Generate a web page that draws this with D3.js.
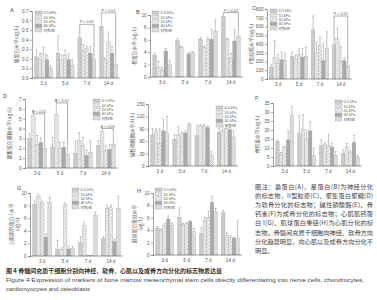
<!DOCTYPE html>
<html>
<head>
<meta charset="utf-8">
<script src="https://cdn.jsdelivr.net/npm/d3@7"></script>
<style>
  body { margin:0; background:#fff; }
  svg { display:block; font-family:"Liberation Sans","Noto Sans CJK SC",sans-serif; }
  .axis path, .axis line { stroke:#666; stroke-width:0.6; }
  .axis text { fill:#555; font-size:4.6px; }
</style>
</head>
<body>
<div id="chart"></div>
<script>
// categories
const days = ['3 d', '5 d', '7 d', '14 d'];
const groups = ['0.5 kPa', '10 kPa', '20 kPa', '40 kPa', '对照组'];

// values: one row per day, one column per group
const nestinMean = [[0.22,0.19,0.26,0.19,0.10],[0.26,0.19,0.24,0.19,0.13],[0.42,0.29,0.31,0.26,0.20],[0.54,0.19,0.37,0.26,0.14]];
const nestinErr  = [[0.07,0.07,0.06,0.05,0.03],[0.18,0.05,0.05,0.06,0.06],[0.06,0.06,0.02,0.07,0.05],[0.09,0.02,0.11,0.07,0.04]];
const gfapMean = [[3.5,1.5,1.0,4.2,2.0],[5.9,4.8,0.0,3.7,4.0],[6.1,4.7,6.1,6.1,7.4],[9.8,6.1,3.0,5.8,6.6]];
const gfapErr  = [[0.3,1.0,0.5,0.4,0.7],[0.3,0.2,0.0,0.2,0.1],[0.3,0.3,0.3,1.6,1.8],[0.4,0.2,0.8,1.8,1.0]];
const col2Mean = [[130,250,180,220,210],[255,235,285,250,260],[560,290,380,210,350],[390,460,200,210,140]];
const col2Err  = [[30,190,100,90,90],[50,40,60,100,100],[160,130,100,200,190],[70,120,170,30,20]];
const aggMean = [[3.0,5.3,2.4,2.6,2.0],[2.1,5.4,2.0,2.1,1.4],[1.5,2.8,2.3,1.3,1.6],[2.3,3.7,1.8,1.9,2.4]];
const aggErr  = [[0.5,0.4,0.9,0.5,0.3],[1.0,1.5,0.6,0.5,1.1],[1.2,0.8,0.8,0.5,1.2],[0.5,0.4,0.5,0.5,0.3]];
const alpMean = [[75,85,55,85,80],[65,75,78,80,100],[73,98,95,93,25],[82,85,90,88,70]];
const alpErr  = [[15,5,35,30,40],[10,20,5,5,3],[25,3,5,3,10],[10,10,8,5,15]];
const ocnMean = [[13.5,6.5,10.5,14.5,28],[18,20.5,15,19.5,6],[11.5,12,11.5,10.5,6],[7,10.5,7.5,13,5]];
const ocnErr  = [[1,1,0.5,5,5],[10,8,5,5,4],[3,1,6,2,2],[2,2,1,4,1]];
const ctniMean = [[8.2,9.5,8.4,3.0,8.5],[1.0,1.0,8.1,1.1,1.2],[2.1,4.8,0.1,0.1,6.5],[2.8,7.5,7.7,2.3,7.6]];
const ctniErr  = [[0.5,0.3,0.3,0.5,0.8],[1.5,0.3,0.3,0.5,0.3],[1.0,0.5,0.05,0.05,0.5],[0.3,0.5,0.4,0.4,1.9]];
const mhcMean = [[4.3,3.9,4.8,5.8,4.8],[6.1,4.9,5.0,5.4,3.8],[3.4,5.6,6.1,8.5,7.0],[6.8,3.1,2.8,2.7,2.7]];
const mhcErr  = [[0.3,0.3,0.3,0.5,0.4],[1.5,0.2,0.2,0.1,0.5],[1.0,0.5,1.0,1.0,0.5],[0.4,0.5,0.3,0.2,2.9]];

// tick labels
const ticksA = [0,0.1,0.2,0.3,0.4,0.5,0.6,0.7];
const ticks10 = [0,2,4,6,8,10];
const ticksC = [0,100,200,300,400,500,600,700,800];
const ticksD = [0,1,2,3,4,5,6,7];
const ticksE = [0,30,60,90,120,150];
const ticksF = [0,5,10,15,20,25,30,35];

// layout of the panels (pixel boxes)
const panels = [
  {id:'A', mean:nestinMean, err:nestinErr, ticks:ticksA, fmt:d3.format('.1f'), ylab:['巢蛋白水平(μg/L)'],
   box:{l:32,r:120,t:11,b:78}, label:[10,12], legend:[35,11],
   brackets:[{day:2,from:0,to:4,v:0.56,txt:'P < 0.01'},{day:3,from:0,to:4,v:0.68,txt:'P < 0.01'}]},
  {id:'B', mean:gfapMean, err:gfapErr, ticks:ticks10, fmt:d3.format('d'), ylab:['星蛋白水平(μg/L)'],
   box:{l:150,r:243,t:15,b:77}, label:[136,14], legend:[152,11],
   brackets:[{day:3,from:0,to:4,v:10.4,txt:'P < 0.01'}]},
  {id:'C', mean:col2Mean, err:col2Err, ticks:ticksC, fmt:d3.format('d'), ylab:['II型胶原水平(μg/L)'],
   box:{l:267,r:352,t:9,b:79}, label:[252,10], legend:[270,9],
   brackets:[{day:3,from:0,to:4,v:720,txt:'P < 0.01'}]},
  {id:'D', mean:aggMean, err:aggErr, ticks:ticksD, fmt:d3.format('d'), ylab:['聚集蛋白聚糖水平(μg/L)'],
   box:{l:25,r:118,t:99,b:168}, label:[3,98], legend:[93,99],
   brackets:[{day:0,from:1,to:4,v:5.5,txt:'P < 0.01'},{day:1,from:1,to:4,v:6.6,txt:'P < 0.01'},{day:3,from:1,to:4,v:4.0,txt:'P < 0.05'}]},
  {id:'E', mean:alpMean, err:alpErr, ticks:ticksE, fmt:d3.format('d'), ylab:['碱性磷酸酶水平(U/L)'],
   box:{l:148,r:238,t:104,b:166}, label:null, legend:[216,106], brackets:[]},
  {id:'F', mean:ocnMean, err:ocnErr, ticks:ticksF, fmt:d3.format('d'), ylab:['骨钙素水平(μg/L)'],
   box:{l:273,r:362,t:103,b:166}, label:[255,100], legend:[335,100], brackets:[]},
  {id:'G', mean:ctniMean, err:ctniErr, ticks:ticks10, fmt:d3.format('d'), ylab:['心肌肌钙蛋白 I 水平','(μg/L)'],
   box:{l:30,r:123,t:193,b:256}, label:[17,190], legend:[72,188], brackets:[]},
  {id:'H', mean:mhcMean, err:mhcErr, ticks:ticks10, fmt:d3.format('d'), ylab:['肌球蛋白重链水平','(μg/L)'],
   box:{l:153,r:242,t:193,b:255}, label:[137,193], legend:[155,188], brackets:[]}
];

const noteLines = [
  '图注：巢蛋白(A)、星蛋白(B)为神经分化',
  '的标志物，II型胶原(C)、聚集蛋白聚糖(D)',
  '为软骨分化的标志物；碱性磷酸酶(E)、骨',
  '钙素(F)为成骨分化的标志物；心肌肌钙蛋',
  '白 I(G)、肌球蛋白重链(H)为心肌分化的标',
  '志物。骨髓间充质干细胞向神经、软骨方向',
  '分化趋势明显，向心肌以及成骨方向分化不',
  '明显。'
];
const captionCn = '图 4   骨髓间充质干细胞分别向神经、软骨、心肌以及成骨方向分化的标志物表达量';
const captionEn1 = 'Figure 4   Expression of markers of bone marrow mesenchymal stem cells directly differentiating into nerve cells, chondrocytes,';
const captionEn2 = 'cardiomyocytes and osteoblasts';

const svg = d3.select('#chart').append('svg')
    .attr('width', 377)
    .attr('height', 300);

// patterns for the bar fills
const defs = svg.append('defs');
const pDots = defs.append('pattern').attr('id','pDots').attr('patternUnits','userSpaceOnUse')
    .attr('width',2).attr('height',2);
pDots.append('rect').attr('width',2).attr('height',2).attr('fill','#cfcfcf');
pDots.append('rect').attr('width',1).attr('height',1).attr('fill','#bdbdbd');
const pHatch = defs.append('pattern').attr('id','pHatch').attr('patternUnits','userSpaceOnUse')
    .attr('width',2).attr('height',2);
pHatch.append('rect').attr('width',2).attr('height',2).attr('fill','#ececec');
pHatch.append('rect').attr('y',1).attr('width',2).attr('height',0.6).attr('fill','#d0d0d0');
const pDiag = defs.append('pattern').attr('id','pDiag').attr('patternUnits','userSpaceOnUse')
    .attr('width',2.5).attr('height',2.5).attr('patternTransform','rotate(45)');
pDiag.append('rect').attr('width',2.5).attr('height',2.5).attr('fill','#f4f4f4');
pDiag.append('rect').attr('width',0.7).attr('height',2.5).attr('fill','#bbbbbb');
const pCross = defs.append('pattern').attr('id','pCross').attr('patternUnits','userSpaceOnUse')
    .attr('width',2).attr('height',2);
pCross.append('rect').attr('width',2).attr('height',2).attr('fill','#f2f2f2');
pCross.append('rect').attr('width',1).attr('height',1).attr('fill','#c4c4c4');
pCross.append('rect').attr('x',1).attr('y',1).attr('width',1).attr('height',1).attr('fill','#c4c4c4');

const fills = ['url(#pDots)', 'url(#pHatch)', 'url(#pDiag)', '#a9a9a9', 'url(#pCross)'];

panels.forEach(p => {
    const g = svg.append('g').attr('class', 'panel panel-' + p.id);
    const yMax = p.ticks[p.ticks.length - 1];

    // scales
    const scaleX = d3.scaleBand()
        .domain(days)
        .range([p.box.l, p.box.r])
        .paddingInner(0.18)
        .paddingOuter(0.12);
    const scaleS = d3.scaleBand()
        .domain(groups)
        .range([0, scaleX.bandwidth()])
        .padding(0);
    const scaleY = d3.scaleLinear()
        .domain([0, yMax])
        .range([p.box.b, p.box.t]);

    // bars
    const dayG = g.selectAll('.day')
        .data(p.mean.map((row, i) => ({day: days[i], row: row, err: p.err[i]})))
        .enter().append('g')
        .attr('class', 'day')
        .attr('transform', d => `translate(${scaleX(d.day)},0)`);

    dayG.selectAll('rect')
        .data(d => d.row.map((v, j) => ({v: v, e: d.err[j], s: groups[j], j: j})))
        .enter().append('rect')
        .attr('x', d => scaleS(d.s))
        .attr('y', d => scaleY(d.v))
        .attr('width', scaleS.bandwidth())
        .attr('height', d => p.box.b - scaleY(d.v))
        .attr('fill', d => fills[d.j])
        .attr('stroke', '#999')
        .attr('stroke-width', 0.3);

    // error bars (upper half only)
    const errG = dayG.selectAll('.err')
        .data(d => d.row.map((v, j) => ({v: v, e: d.err[j], s: groups[j]})).filter(d => d.e > 0))
        .enter().append('g')
        .attr('class', 'err')
        .attr('stroke', '#888')
        .attr('stroke-width', 0.5);
    errG.append('line')
        .attr('x1', d => scaleS(d.s) + scaleS.bandwidth() / 2)
        .attr('x2', d => scaleS(d.s) + scaleS.bandwidth() / 2)
        .attr('y1', d => scaleY(d.v))
        .attr('y2', d => scaleY(d.v + d.e));
    errG.append('line')
        .attr('x1', d => scaleS(d.s) + scaleS.bandwidth() / 2 - 1)
        .attr('x2', d => scaleS(d.s) + scaleS.bandwidth() / 2 + 1)
        .attr('y1', d => scaleY(d.v + d.e))
        .attr('y2', d => scaleY(d.v + d.e));

    // axes
    const axisY = d3.axisLeft(scaleY)
        .tickValues(p.ticks)
        .tickSize(2)
        .tickPadding(1.5)
        .tickFormat(p.fmt);
    g.append('g')
        .attr('class', 'axis axis-y')
        .attr('transform', `translate(${p.box.l},0)`)
        .call(axisY);

    const axisX = d3.axisBottom(scaleX)
        .tickSize(0)
        .tickPadding(4)
        .tickSizeOuter(0);
    const xNode = g.append('g')
        .attr('class', 'axis axis-x')
        .attr('transform', `translate(0,${p.box.b})`)
        .call(axisX);
    xNode.select('.domain').attr('d', `M${p.box.l},0H${p.box.r}`);

    // y label, rotated
    const yl = g.append('text')
        .attr('transform', `translate(${p.box.l - 14 - (p.ylab.length - 1) * 3},${(p.box.t + p.box.b) / 2}) rotate(-90)`)
        .attr('text-anchor', 'middle')
        .attr('font-family', '"Noto Sans CJK SC",sans-serif')
        .attr('font-size', 4.8)
        .attr('fill', '#555');
    p.ylab.forEach((s, i) => {
        yl.append('tspan').attr('x', 0).attr('dy', i === 0 ? 0 : 6).text(s);
    });

    // panel letter
    if (p.label) {
        g.append('text')
            .attr('x', p.label[0])
            .attr('y', p.label[1])
            .attr('font-size', 5.5)
            .attr('fill', '#444')
            .text(p.id);
    }

    // legend
    const leg = g.append('g').attr('transform', `translate(${p.legend[0]},${p.legend[1]})`);
    const legItem = leg.selectAll('.leg')
        .data(groups)
        .enter().append('g')
        .attr('transform', (d, i) => `translate(0,${i * 4.4})`);
    legItem.append('rect')
        .attr('width', 7)
        .attr('height', 3.4)
        .attr('fill', (d, i) => fills[i])
        .attr('stroke', '#999')
        .attr('stroke-width', 0.3);
    legItem.append('text')
        .attr('x', 8.5)
        .attr('y', 3.2)
        .attr('font-size', 3.8)
        .attr('fill', '#555')
        .text(d => d);

    // significance brackets
    p.brackets.forEach(b => {
        const x1 = scaleX(days[b.day]) + scaleS(groups[b.from]) + scaleS.bandwidth() / 2;
        const x2 = scaleX(days[b.day]) + scaleS(groups[b.to]) + scaleS.bandwidth() / 2;
        const yb = scaleY(b.v);
        const r1 = p.mean[b.day][b.from] + p.err[b.day][b.from];
        const r2 = p.mean[b.day][b.to] + p.err[b.day][b.to];
        g.append('path')
            .attr('d', `M${x1},${scaleY(r1) - 1}V${yb}H${x2}V${scaleY(r2) - 1}`)
            .attr('fill', 'none')
            .attr('stroke', '#666')
            .attr('stroke-width', 0.5);
        g.append('text')
            .attr('x', (x1 + x2) / 2)
            .attr('y', yb - 1)
            .attr('text-anchor', 'middle')
            .attr('font-size', 3.8)
            .attr('fill', '#555')
            .text(b.txt);
    });
});

// note block: shrink a line if it is too wide, stretch full lines to the column width
const noteW = 118;
svg.append('g').selectAll('text')
    .data(noteLines)
    .enter().append('text')
    .attr('x', 255)
    .attr('y', (d, i) => 189 + i * 9.1)
    .attr('font-family', '"Noto Sans CJK SC",sans-serif')
    .attr('font-size', 6.2)
    .attr('fill', '#444')
    .text(d => d)
    .each(function(d, i) {
        const el = d3.select(this);
        const w = this.getComputedTextLength();
        if (w > noteW) {
            el.attr('font-size', 6.2 * noteW / w);
        } else if (i < noteLines.length - 1) {
            el.attr('textLength', noteW).attr('lengthAdjust', 'spacing');
        }
    });

// caption
svg.append('text')
    .attr('x', 6).attr('y', 273)
    .attr('font-family', '"Noto Sans CJK SC",sans-serif')
    .attr('font-weight', 'bold')
    .attr('font-size', 5.8)
    .attr('fill', '#333')
    .attr('textLength', 216)
    .attr('lengthAdjust', 'spacingAndGlyphs')
    .text(captionCn);
svg.append('text')
    .attr('x', 6).attr('y', 282)
    .attr('font-size', 5.8)
    .attr('fill', '#444')
    .attr('textLength', 358)
    .attr('lengthAdjust', 'spacingAndGlyphs')
    .text(captionEn1);
svg.append('text')
    .attr('x', 6).attr('y', 291)
    .attr('font-size', 5.8)
    .attr('fill', '#444')
    .attr('textLength', 84)
    .attr('lengthAdjust', 'spacingAndGlyphs')
    .text(captionEn2);
</script>
</body>
</html>
